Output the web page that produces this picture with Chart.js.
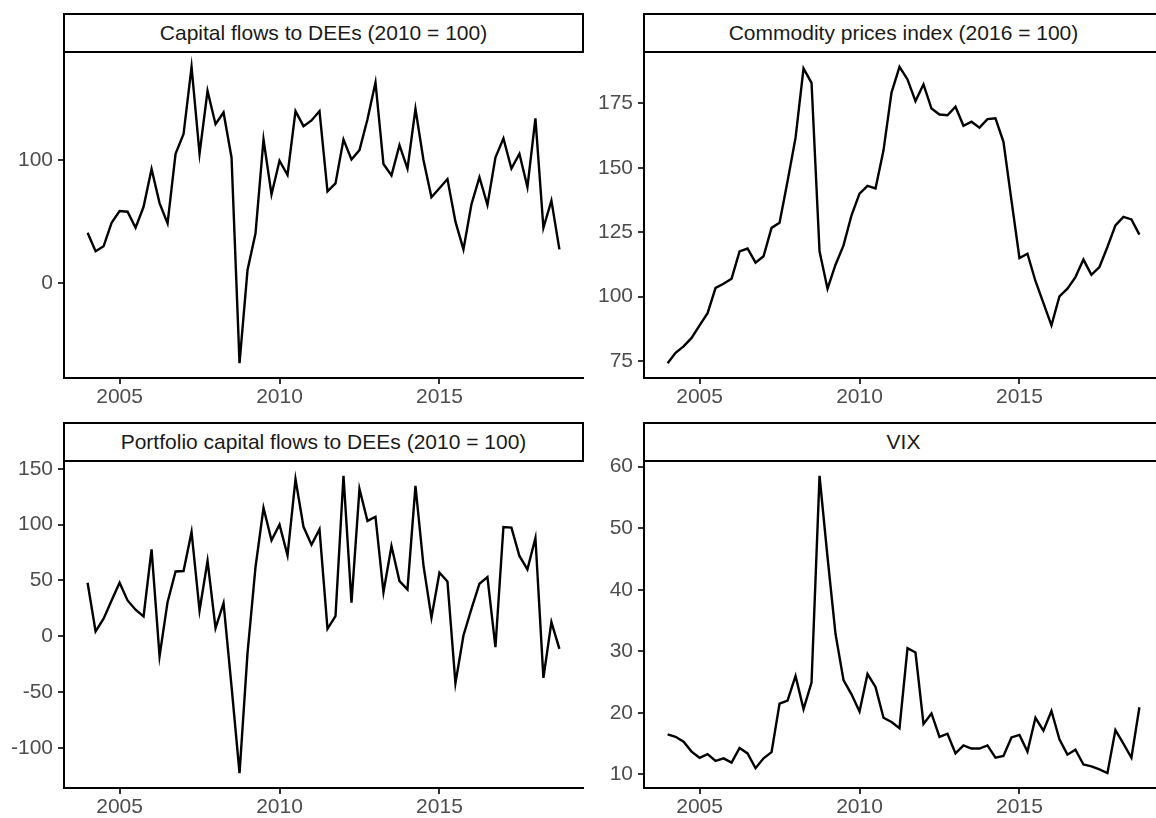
<!DOCTYPE html>
<html>
<head>
<meta charset="utf-8">
<script src="https://cdn.jsdelivr.net/npm/chart.js@4/dist/chart.umd.min.js"></script>
<style>
  html, body { margin: 0; padding: 0; background: #fff; width: 1156px; height: 818px; overflow: hidden; }
  canvas { position: absolute; }
  .strip {
    position: absolute;
    box-sizing: border-box;
    border: 2px solid #000;
    background: #fff;
    font-family: "Liberation Sans", Arial, sans-serif;
    font-size: 21px;
    color: #1a1a1a;
    display: flex;
    align-items: center;
    justify-content: center;
  }
</style>
</head>
<body>

<canvas id="capitalChart" width="593" height="391" style="left:0px;top:32px"></canvas>
<canvas id="commodityChart" width="593" height="391" style="left:580px;top:32px"></canvas>
<canvas id="portfolioChart" width="593" height="392" style="left:0px;top:441px"></canvas>
<canvas id="vixChart" width="593" height="392" style="left:580px;top:441px"></canvas>

<div class="strip" style="left:63px;top:13px;width:521px;height:40px">Capital flows to DEEs (2010 = 100)</div>
<div class="strip" style="left:643px;top:13px;width:521px;height:40px">Commodity prices index (2016 = 100)</div>
<div class="strip" style="left:63px;top:422px;width:521px;height:40px">Portfolio capital flows to DEEs (2010 = 100)</div>
<div class="strip" style="left:643px;top:422px;width:521px;height:40px">VIX</div>

<script>
// ================= DATA =================
const quarters = [
  "2004Q1","2004Q2","2004Q3","2004Q4","2005Q1","2005Q2","2005Q3","2005Q4",
  "2006Q1","2006Q2","2006Q3","2006Q4","2007Q1","2007Q2","2007Q3","2007Q4",
  "2008Q1","2008Q2","2008Q3","2008Q4","2009Q1","2009Q2","2009Q3","2009Q4",
  "2010Q1","2010Q2","2010Q3","2010Q4","2011Q1","2011Q2","2011Q3","2011Q4",
  "2012Q1","2012Q2","2012Q3","2012Q4","2013Q1","2013Q2","2013Q3","2013Q4",
  "2014Q1","2014Q2","2014Q3","2014Q4","2015Q1","2015Q2","2015Q3","2015Q4",
  "2016Q1","2016Q2","2016Q3","2016Q4","2017Q1","2017Q2","2017Q3","2017Q4",
  "2018Q1","2018Q2","2018Q3","2018Q4"
];

const capitalFlows = [
  41, 26, 30, 49, 58.6, 58, 45, 62, 92.6, 65,
  48.6, 105, 121, 175.5, 105, 156, 129, 138.5, 102, -64.8,
  10.8, 40.5, 116.6, 72, 99.4, 87.8, 139.6, 127.4, 132, 139.6,
  74.5, 81, 116.6, 100.4, 108, 133, 162.8, 96.7, 87.5, 112,
  93, 141.5, 100, 69.7, 77, 84.5, 50, 27.5, 64, 86,
  63.5, 102, 117.5, 93, 105, 78, 133.7, 45, 67, 27.5
];

const commodityIndex = [
  74.2, 78.2, 80.7, 84, 88.9, 93.6, 103.4, 105, 107, 117.6,
  118.7, 113.2, 115.7, 126.7, 128.7, 144.8, 161.6, 188.6, 183, 117.6,
  103.1, 112.4, 119.9, 131.6, 140, 143, 142, 156.8, 179.2, 189.2,
  184.3, 175.9, 182.4, 173, 170.7, 170.4, 173.7, 166.3, 167.9, 165.6,
  168.9, 169.2, 160.1, 137.4, 115, 116.7, 106.1, 97.5, 88.9, 100.1,
  103.1, 107.6, 114.4, 108.5, 111.5, 119.3, 127.7, 131, 130, 124.1
];

const portfolioFlows = [
  47.9, 4.2, 15.6, 32, 47.9, 32, 23.7, 17.7, 77.8, -18,
  30.5, 58, 58.4, 93.4, 23, 67.4, 7.2, 29.6, -45, -122.8,
  -15, 62, 115, 86, 100, 72.5, 140.7, 98, 82, 95.8,
  6.6, 18, 143.7, 30, 132, 103.3, 107, 39.5, 80.8, 49.4,
  41.9, 134.7, 63.5, 16.5, 56.9, 49.1, -42.2, 0.6, 24.5, 47,
  53, -9.9, 97.9, 97.3, 71.9, 59.9, 88, -37.4, 12.6, -11.4
];

const vix = [
  16.5, 16.1, 15.3, 13.7, 12.7, 13.3, 12.2, 12.6, 11.9, 14.3,
  13.4, 11, 12.6, 13.6, 21.5, 22, 26, 20.6, 24.9, 58.5,
  45.3, 32.8, 25.3, 23, 20.2, 26.3, 24.2, 19.2, 18.5, 17.5,
  30.5, 29.8, 18.2, 19.9, 16.1, 16.6, 13.4, 14.7, 14.2, 14.2,
  14.7, 12.7, 13, 16, 16.4, 13.7, 19.2, 17.1, 20.3, 15.7,
  13.2, 14, 11.6, 11.3, 10.8, 10.2, 17.2, 15, 12.7, 20.9
];

// tick labels
const xTicks = [2005, 2010, 2015];
const capitalTicks = [0, 100];
const commodityTicks = [75, 100, 125, 150, 175];
const portfolioTicks = [-100, -50, 0, 50, 100, 150];
const vixTicks = [10, 20, 30, 40, 50, 60];

// ================= HELPERS =================
// "2004Q3" -> 2004.5
function quarterToYear(q) {
  return Number(q.slice(0, 4)) + (Number(q.slice(5)) - 1) / 4;
}

// ggplot style 5% expansion of the data range
function expand(min, max) {
  const pad = (max - min) * 0.05;
  return { min: min - pad, max: max + pad };
}

const xs = quarters.map(quarterToYear);
const xRange = expand(Math.min(...xs), Math.max(...xs));

const tickFont = { family: "'Liberation Sans', Arial, sans-serif", size: 21 };

function makePanel(id, values, yTicks) {
  const yRange = expand(Math.min(...values), Math.max(...values));

  return new Chart(document.getElementById(id), {
    type: "line",
    data: {
      datasets: [{
        data: values.map((v, i) => ({ x: xs[i], y: v })),
        borderColor: "#000",
        borderWidth: 2.4,
        pointRadius: 0,
        tension: 0,
        fill: false
      }]
    },
    options: {
      responsive: false,
      animation: false,
      layout: { padding: { top: 20, right: 10, bottom: 0, left: 0 } },
      plugins: { legend: { display: false }, tooltip: { enabled: false } },
      scales: {
        x: {
          type: "linear",
          min: xRange.min,
          max: xRange.max,
          afterBuildTicks: axis => { axis.ticks = xTicks.map(v => ({ value: v })); },
          afterFit: axis => { axis.height = 45; },
          grid: { drawOnChartArea: false, drawTicks: true, tickLength: 6, color: "#333", lineWidth: 2 },
          border: { display: true, color: "#000", width: 2 },
          ticks: { color: "#4d4d4d", font: tickFont, padding: 1, maxRotation: 0, callback: v => String(v) }
        },
        y: {
          min: yRange.min,
          max: yRange.max,
          afterBuildTicks: axis => { axis.ticks = yTicks.map(v => ({ value: v })); },
          afterFit: axis => { axis.width = 64; },
          grid: { drawOnChartArea: false, drawTicks: true, tickLength: 6, color: "#333", lineWidth: 2 },
          border: { display: true, color: "#000", width: 2 },
          ticks: { color: "#4d4d4d", font: tickFont, padding: 5, callback: v => String(v) }
        }
      }
    }
  });
}

// ================= PANELS =================
makePanel("capitalChart", capitalFlows, capitalTicks);
makePanel("commodityChart", commodityIndex, commodityTicks);
makePanel("portfolioChart", portfolioFlows, portfolioTicks);
makePanel("vixChart", vix, vixTicks);
</script>
</body>
</html>
